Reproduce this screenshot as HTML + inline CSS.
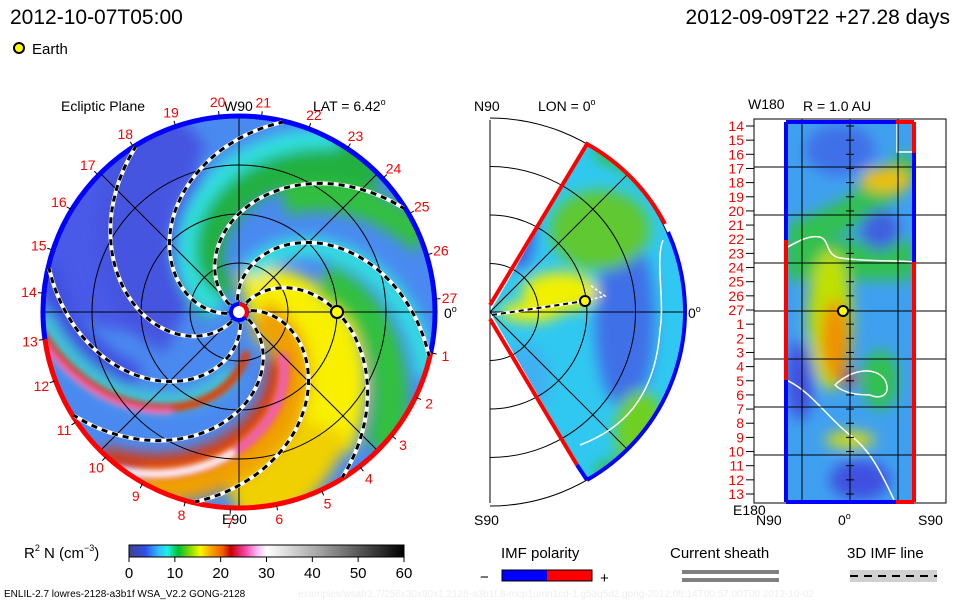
<!DOCTYPE html>
<html><head><meta charset="utf-8"><style>
html,body{margin:0;padding:0;background:#fff;}
svg{display:block;font-family:"Liberation Sans",sans-serif;}
</style></head><body>
<svg id="s" width="960" height="600" viewBox="0 0 960 600">
<defs>
<filter id="bl" x="-20%" y="-20%" width="140%" height="140%"><feGaussianBlur stdDeviation="7"/></filter>
<filter id="bl2" x="-20%" y="-20%" width="140%" height="140%"><feGaussianBlur stdDeviation="3"/></filter>
<clipPath id="cc"><circle cx="239" cy="312" r="196"/></clipPath>
<clipPath id="wc"><path d="M490,312 L587,144 A194,194 0 0 1 587,480 Z"/></clipPath>
<clipPath id="rc"><rect x="786" y="122" width="128" height="380"/></clipPath>
<linearGradient id="cb" x1="0" x2="1" y1="0" y2="0">
<stop offset="0" stop-color="#404090"/><stop offset="0.06" stop-color="#3050e8"/><stop offset="0.11" stop-color="#30c0ff"/><stop offset="0.14" stop-color="#20f0e0"/><stop offset="0.18" stop-color="#00c030"/><stop offset="0.23" stop-color="#a0e000"/><stop offset="0.26" stop-color="#f8f800"/><stop offset="0.3" stop-color="#f8a000"/><stop offset="0.34" stop-color="#f06000"/><stop offset="0.37" stop-color="#c80000"/><stop offset="0.42" stop-color="#f040a0"/><stop offset="0.47" stop-color="#ffc0ff"/><stop offset="0.5" stop-color="#ffffff"/><stop offset="0.7" stop-color="#a0a0a0"/><stop offset="1" stop-color="#000000"/>
</linearGradient>
</defs>

<text x="10" y="24" font-size="21" fill="#000">2012-10-07T05:00</text>
<text x="950" y="24" font-size="21" fill="#000" text-anchor="end">2012-09-09T22 +27.28 days</text>
<circle cx="19" cy="48" r="5" fill="#ff0" stroke="#000" stroke-width="2"/>
<text x="32" y="54" font-size="15">Earth</text>

<g id="eclip">
<text x="61" y="111" font-size="14">Ecliptic Plane</text>
<text x="224" y="111" font-size="14">W90</text>
<text x="313" y="111" font-size="14">LAT = 6.42<tspan font-size="9" dy="-6">o</tspan></text>
<text x="222" y="524" font-size="14">E90</text>
<text x="444" y="318" font-size="14">0<tspan font-size="9" dy="-6">o</tspan></text>
<g clip-path="url(#cc)" id="ecl-fill">
<circle cx="239" cy="312" r="196" fill="#4a8af0"/>
<ellipse cx="120" cy="220" rx="90" ry="110" fill="#4a5ae8" filter="url(#bl)"/>
<g id="bands" filter="url(#bl)"></g>
<g id="bands2" filter="url(#bl2)"></g>
</g>
<g id="ecl-grid" fill="none" stroke="#000" stroke-width="1"></g>
<g id="ecl-lines"></g>
<g id="ecl-labels"></g>
</g>

<g>
<text x="474" y="111" font-size="14">N90</text>
<text x="538" y="111" font-size="14">LON = 0<tspan font-size="9" dy="-6">o</tspan></text>
<text x="474" y="525" font-size="14">S90</text>
<text x="688" y="318" font-size="14">0<tspan font-size="9" dy="-6">o</tspan></text>
<g clip-path="url(#wc)">
<rect x="490" y="140" width="200" height="345" fill="#30c8f0"/>
<g filter="url(#bl)">
<path d="M600,140 A180,180 0 0 1 600,485" stroke="#30c040" stroke-width="40" fill="none"/>
<path d="M690,140 A194,194 0 0 1 690,485" stroke="#3060e8" stroke-width="30" fill="none"/>
<ellipse cx="625" cy="320" rx="30" ry="90" fill="#4070e8"/>
<ellipse cx="600" cy="230" rx="50" ry="40" fill="#60c830"/>
<ellipse cx="560" cy="292" rx="38" ry="20" fill="#f0f000"/>
<ellipse cx="530" cy="312" rx="30" ry="10" fill="#f0f000"/>
<ellipse cx="525" cy="380" rx="25" ry="35" fill="#40b0f0"/>
<ellipse cx="520" cy="230" rx="15" ry="40" fill="#4060e0"/>
<ellipse cx="640" cy="430" rx="25" ry="40" fill="#70d020"/>
</g>
</g>
<path d="M490,120 V503" stroke="#000" fill="none"/>
<g id="mer-grid" fill="none" stroke="#000" stroke-width="1"></g>
<path d="M490,305 L587,144 A194,194 0 0 1 665,224" stroke="#f00" stroke-width="4" fill="none"/>
<path d="M668,232 A194,194 0 0 1 587,480" stroke="#00f" stroke-width="4" fill="none"/>
<path d="M490,319 L577,465" stroke="#f00" stroke-width="4" fill="none"/>
<path d="M577,465 L587,480" stroke="#00f" stroke-width="4" fill="none"/>
<path d="M663,240 C655,260 665,300 660,330 C655,400 620,430 580,445" stroke="#fff" stroke-width="1.5" fill="none"/>
<path d="M492,315 L585,301" stroke="#fff" stroke-width="3" fill="none"/>
<path d="M492,315 L585,301" stroke="#000" stroke-width="2" stroke-dasharray="5,4" fill="none"/>
<path d="M585,301 L605,296 L590,285" stroke="#fff" stroke-width="1.5" stroke-dasharray="3,2" fill="none"/>
<circle cx="585" cy="301" r="5" fill="#ff0" stroke="#000" stroke-width="2"/>
</g>

<g>
<text x="803" y="111" font-size="14">R = 1.0 AU</text>
<text x="748" y="109" font-size="14">W180</text>
<text x="733" y="515" font-size="14">E180</text>
<text x="756" y="525" font-size="14">N90</text>
<text x="838" y="525" font-size="14">0<tspan font-size="9" dy="-6">o</tspan></text>
<text x="918" y="525" font-size="14">S90</text>
<g clip-path="url(#rc)">
<rect x="786" y="122" width="128" height="380" fill="#40a0f0"/>
<g filter="url(#bl)">
<path d="M790,240 C840,220 880,200 914,160" stroke="#30c050" stroke-width="30" fill="none"/>
<ellipse cx="885" cy="180" rx="25" ry="12" fill="#f0c000"/>
<rect x="786" y="240" width="128" height="40" fill="#30c050"/>
<ellipse cx="830" cy="320" rx="22" ry="70" fill="#c0e000"/>
<ellipse cx="835" cy="340" rx="14" ry="40" fill="#f09000"/>
<ellipse cx="848" cy="378" rx="10" ry="6" fill="#c00040"/>
<ellipse cx="800" cy="380" rx="14" ry="40" fill="#4050e0"/>
<ellipse cx="880" cy="380" rx="18" ry="30" fill="#30c050"/>
<ellipse cx="850" cy="440" rx="25" ry="8" fill="#e0e000"/>
<ellipse cx="860" cy="480" rx="30" ry="20" fill="#4050e0"/>
<ellipse cx="840" cy="150" rx="35" ry="25" fill="#4070e8"/>
<ellipse cx="880" cy="230" rx="20" ry="20" fill="#4060e0"/>
</g>
<path d="M786,248 C800,240 810,235 820,237 C830,240 825,255 840,258 C870,262 895,260 914,262" stroke="#fff" stroke-width="1.5" fill="none"/>
<path d="M786,380 C810,390 830,420 850,435 C870,450 880,470 895,502" stroke="#fff" stroke-width="1.5" fill="none"/>
<path d="M835,385 C850,370 875,365 885,380 C892,395 880,400 870,395 C850,395 840,390 835,385Z" stroke="#fff" stroke-width="1.5" fill="none"/>
<path d="M897,122 V152 H914" stroke="#fff" stroke-width="1.5" fill="none"/>
</g>
<rect x="754" y="119" width="192" height="384" fill="none" stroke="#000"/>
<g id="r-grid" stroke="#000" fill="none"></g>
<g id="r-labels"></g>
<path d="M786,122 H896" stroke="#00f" stroke-width="4"/>
<path d="M896,122 H914" stroke="#f00" stroke-width="4"/>
<path d="M786,502 H896" stroke="#00f" stroke-width="4"/>
<path d="M896,502 H914" stroke="#f00" stroke-width="4"/>
<path d="M786,122 V240" stroke="#00f" stroke-width="4"/>
<path d="M786,240 V380" stroke="#f00" stroke-width="4"/>
<path d="M786,380 V502" stroke="#00f" stroke-width="4"/>
<path d="M914,122 V153" stroke="#f00" stroke-width="4"/>
<path d="M914,153 V262" stroke="#00f" stroke-width="4"/>
<path d="M914,262 V502" stroke="#f00" stroke-width="4"/>
<circle cx="843" cy="311" r="5" fill="#ff0" stroke="#000" stroke-width="2"/>
</g>

<g>
<text x="24" y="558" font-size="15">R<tspan font-size="9" dy="-7">2</tspan><tspan dy="7"> N (cm</tspan><tspan font-size="9" dy="-7">−3</tspan><tspan dy="7">)</tspan></text>
<rect x="129" y="545" width="275" height="12" fill="url(#cb)" stroke="#000"/>
<g id="cb-ticks"></g>
</g>
<text x="4" y="597" font-size="10">ENLIL-2.7 lowres-2128-a3b1f WSA_V2.2 GONG-2128</text>
<text x="298" y="597" font-size="10" fill="#eee">examples/wsafr2.7/256x30x90x1.2128-a3b1f.8-mcp1umn1cd-1.g53q5d2.gong-2012:08:14T00:57:00T00    2012-10-02</text>

<g>
<text x="501" y="558" font-size="15">IMF polarity</text>
<text x="480" y="582" font-size="15">−</text>
<rect x="502" y="570" width="45" height="11" fill="#00f"/>
<rect x="547" y="570" width="45" height="11" fill="#f00"/>
<rect x="502" y="570" width="90" height="11" fill="none" stroke="#000"/>
<text x="600" y="583" font-size="15">+</text>
</g>
<g>
<text x="670" y="558" font-size="15">Current sheath</text>
<rect x="682" y="570" width="97" height="4" fill="#808080"/>
<rect x="682" y="578" width="97" height="4" fill="#808080"/>
</g>
<g>
<text x="847" y="558" font-size="15">3D IMF line</text>
<rect x="850" y="570" width="87" height="12" fill="#d0d0d0"/>
<path d="M850,576 H937" stroke="#000" stroke-width="2" stroke-dasharray="8,6"/>
</g>
</svg>
<script>
// ---- data ----
const dayLabels=[27,26,25,24,23,22,21,20,19,18,17,16,15,14,13,12,11,10,9,8,7,6,5,4,3,2,1];
const dayAngles=[3.8,16.9,30,42.9,56.5,69.2,83.4,95.8,108.8,122.6,135.8,148.6,161.6,174.5,188,200.5,214,227.4,240.7,254.2,267.5,281,294.8,308,321,334.3,348];
const earthR=1.0; const earthLon=0;
const cbTicks=[0,10,20,30,40,50,60];
const rowLabels=[14,15,16,17,18,19,20,21,22,23,24,25,26,27,1,2,3,4,5,6,7,8,9,10,11,12,13];
// ---- helpers ----
const NS='http://www.w3.org/2000/svg';
const CX=239,CY=312,R=196;
function rAU(au){return au*98;}
function pol(r,a){const t=a*Math.PI/180;return [CX+r*Math.cos(t),CY-r*Math.sin(t)];}
function mk(tag,attrs,parent){const e=document.createElementNS(NS,tag);for(const k in attrs)e.setAttribute(k,attrs[k]);parent.appendChild(e);return e;}
function spiral(t0,rate,r1,r2){let d='';for(let r=r1;r<=r2;r+=3){const p=pol(r,t0-rate*r);d+=(d?'L':'M')+p[0].toFixed(1)+','+p[1].toFixed(1);}return d;}
const bands=document.getElementById('bands'),bands2=document.getElementById('bands2');
[[225,0.6,60,200,70,'#4455e0'],[165,0.6,20,200,45,'#20b040'],[180,0.6,20,200,20,'#30e0e0'],[140,0.6,120,200,30,'#30c040'],
 [30,0.6,10,150,75,'#f8f000'],[30,0.6,140,200,60,'#f0d000'],[0,0.6,20,200,35,'#f0a000'],[345,0.6,60,200,18,'#e03000'],
 [75,0.6,90,200,35,'#30c040'],[100,0.6,40,200,20,'#30e0e0'],[300,0.6,60,200,16,'#40d0d0'],[285,0.6,120,200,25,'#4050e0']].forEach(b=>{
 const p=mk('path',{d:spiral(b[0],b[1],b[2],b[3]),stroke:b[5],'stroke-width':b[4],fill:'none'},bands);
 
 
});
[[305,0.6,40,200,8,'#e04000'],[308,0.6,120,200,5,'#f070c0'],[352,0.6,60,200,10,'#f060b0'],[352,0.6,140,200,6,'#ffffff']].forEach(b=>{
 const p=mk('path',{d:spiral(b[0],b[1],b[2],b[3]),stroke:b[5],'stroke-width':b[4],fill:'none'},bands2);
 
 
});
const g=document.getElementById('ecl-grid');
[1,2,3,4].forEach(i=>{const c=mk('circle',{cx:CX,cy:CY,r:i*49},g);});
[0,45,90,135].forEach(a=>{const p1=pol(R,a),p2=pol(R,a+180);const l=mk('line',{x1:p1[0],y1:p1[1],x2:p2[0],y2:p2[1]},g);});
const ol=document.getElementById('ecl-lines');
const pa=pol(R,-12),pb=pol(R,188);
const ringB=mk('path',{d:`M${pa[0]},${pa[1]} A${R},${R} 0 1 0 ${pb[0]},${pb[1]}`,stroke:'#00f','stroke-width':5,fill:'none'},ol);


const ringR=mk('path',{d:`M${pb[0]},${pb[1]} A${R},${R} 0 0 0 ${pa[0]},${pa[1]}`,stroke:'#f00','stroke-width':5,fill:'none'},ol);


[59,104,149,194,239,284,329,14].forEach(t=>{
 const d=spiral(t,0.6,12,196);
 const w=mk('path',{d:d,stroke:'#fff','stroke-width':4,fill:'none','clip-path':'url(#cc)'},ol);
 
 
 const k=mk('path',{d:d,stroke:'#000','stroke-width':3,fill:'none','stroke-dasharray':'6,5','clip-path':'url(#cc)'},ol);
 
 
});
const sun=mk('circle',{cx:CX,cy:CY,r:8,fill:'#fff',stroke:'#00f','stroke-width':4},ol);


const sunR=mk('path',{d:`M${CX},${CY-8} A8,8 0 0 1 ${CX+6},${CY+5}`,stroke:'#f00','stroke-width':4,fill:'none'},ol);


const ep=pol(rAU(earthR),earthLon);
const earth=mk('circle',{cx:ep[0],cy:ep[1],r:6,fill:'#ff0',stroke:'#000','stroke-width':2},ol);


const lg=document.getElementById('ecl-labels');
dayLabels.forEach((d,i)=>{const a=dayAngles[i];const p=pol(211,a);const t1=pol(R+1,a),t2=pol(R+6,a);
 const tk=mk('line',{x1:t1[0],y1:t1[1],x2:t2[0],y2:t2[1],stroke:'#000'},lg);
 
 
 const t=mk('text',{x:p[0],y:p[1]+5,'font-size':14,fill:'#f00','text-anchor':'middle'},lg);t.textContent=d;
 
 
});
const mg=document.getElementById('mer-grid');
[1,2,3,4].forEach(i=>{const r=i*48.5;const c=mk('path',{d:`M490,${312-r} A${r},${r} 0 0 1 490,${312+r}`},mg);});
[45,0,-45].forEach(a=>{const t=a*Math.PI/180;const l=mk('line',{x1:490,y1:312,x2:490+194*Math.cos(t),y2:312-194*Math.sin(t)},mg);});
const rg=document.getElementById('r-grid'),rl=document.getElementById('r-labels');
const y0=126,dy=(494-126)/(rowLabels.length-1);
rowLabels.forEach((v,i)=>{const y=y0+i*dy;
 const tk=mk('line',{x1:746,y1:y,x2:754,y2:y},rg);
 const ct=mk('line',{x1:846,y1:y,x2:854,y2:y},rg);
 const t=mk('text',{x:744,y:y+5,'font-size':14,fill:'#f00','text-anchor':'end'},rl);t.textContent=v;
 
});
[167,215,263,311,359,407,455].forEach(y=>{const l=mk('line',{x1:754,y1:y,x2:946,y2:y},rg);});
[802,850,898].forEach(x=>{const l=mk('line',{x1:x,y1:119,x2:x,y2:503},rg);});
const cg=document.getElementById('cb-ticks');
cbTicks.forEach(v=>{const x=129+v/60*275;
 const l=mk('line',{x1:x,y1:557,x2:x,y2:562,stroke:'#000'},cg);
 const t=mk('text',{x:x,y:578,'font-size':15,'text-anchor':'middle'},cg);t.textContent=v;
 
});
</script>
</body></html>
